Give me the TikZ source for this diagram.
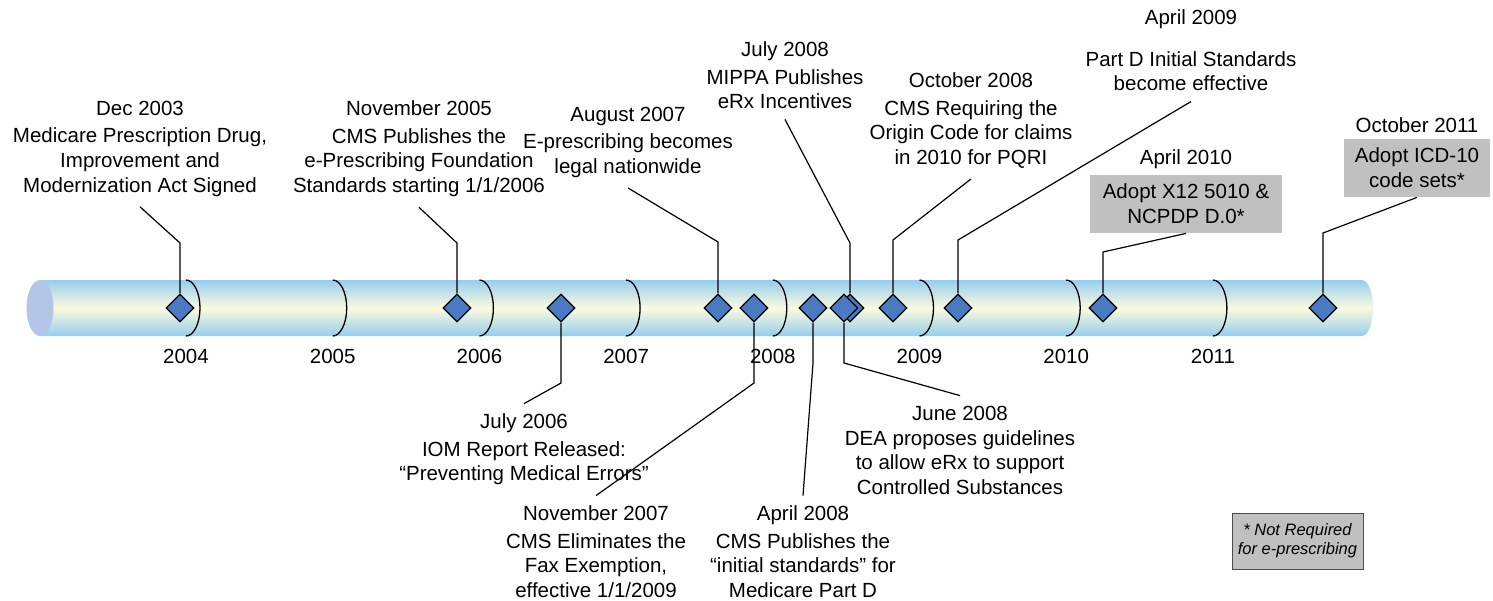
\documentclass[tikz,border=0pt]{standalone}
\usepackage{fontspec}
\setmainfont{Liberation Sans}
\usetikzlibrary{shapes.geometric,positioning}
\definecolor{tubeblue}{HTML}{96CDEE}
\definecolor{tubecream}{HTML}{FCFADE}
\definecolor{tubeend}{HTML}{B2C5E6}
\definecolor{eventblue}{HTML}{4A7BC2}
\definecolor{boxgray}{HTML}{C0C0C0}

\begin{document}
\begin{tikzpicture}[x=0.5pt,y=-0.5pt,font=\fontsize{10.25pt}{12.4pt}\selectfont]
  % Styles
  \tikzset{
    event/.style={diamond, draw=black, line width=0.6pt, fill=eventblue, minimum size=14pt, inner sep=0pt},
    callout/.style={align=center, inner sep=5pt},
    stdbox/.style={fill=boxgray, align=center, minimum width=#1, minimum height=29pt, inner sep=0pt},
    yearmark/.style={line width=0.65pt},
    link/.style={line width=0.6pt},
  }
  \useasboundingbox (0,0) rectangle (1493,600);

  % The tube
  \shade[top color=tubeblue, bottom color=tubeblue, middle color=tubecream]
    (40,280) -- (1362,280) arc[start angle=-90, end angle=90, x radius=11, y radius=28] -- (40,336) -- cycle;
  \fill[tubeend] (40,308) ellipse[x radius=13.5, y radius=28];

  % Year marks
  \foreach \yr [count=\i from 0] in {2004,...,2011}{
    \draw[yearmark] ({186+146.7*\i},280) arc[start angle=-90, end angle=90, x radius=14, y radius=28];
    \node (y\yr) at ({186+146.7*\i},356) {\yr};
  }

  % Events on the tube
  \node[event] (mma)       at (180,308) {};
  \node[event] (fdn)       at (457,308) {};
  \node[event] (iom)       at (561,308) {};
  \node[event] (legal)     at (718,308) {};
  \node[event] (fax)       at (754,308) {};
  \node[event] (partd)     at (813,308) {};
  \node[event] (mippa)     at (850,308) {};
  \node[event] (dea)       at (844,308) {};
  \node[event] (origin)    at (893,308) {};
  \node[event] (effective) at (958,308) {};
  \node[event] (x12)       at (1103,308) {};
  \node[event] (icd)       at (1323,308) {};

  % Callouts above
  \node[callout, anchor=north] (mmanote) at (140,90.6) {Dec 2003\\[1.2pt]Medicare Prescription Drug,\\Improvement and\\Modernization Act Signed};
  \node[callout, anchor=north] (fdnnote) at (419,90.6) {November 2005\\[1.2pt]CMS Publishes the\\e-Prescribing Foundation\\Standards starting 1/1/2006};
  \node[callout, anchor=north] (legalnote) at (628,96.6) {August 2007\\[1.2pt]E-prescribing becomes\\legal nationwide};
  \node[callout, anchor=north] (mippanote) at (785,31.6) {July 2008\\[1.2pt]MIPPA Publishes\\eRx Incentives};
  \node[callout, anchor=north] (originnote) at (971,62.6) {October 2008\\[1.2pt]CMS Requiring the\\Origin Code for claims\\in 2010 for PQRI};
  \node[callout, anchor=north] (effectivenote) at (1191,-0.4) {April 2009\\[8.25pt]Part D Initial Standards\\become effective};

  % Callouts below
  \node[callout, anchor=north] (iomnote) at (524,403.6) {July 2006\\[1.2pt]IOM Report Released:\\“Preventing Medical Errors”};
  \node[callout, anchor=north] (faxnote) at (596,495.6) {November 2007\\[1.2pt]CMS Eliminates the\\Fax Exemption,\\effective 1/1/2009};
  \node[callout, anchor=north] (partdnote) at (803,495.6) {April 2008\\[1.2pt]CMS Publishes the\\“initial standards” for\\Medicare Part D};
  \node[callout, anchor=north] (deanote) at (960,395.6) {June 2008\\DEA proposes guidelines\\to allow eRx to support\\Controlled Substances};

  % Grey boxes
  \node[stdbox=96pt] (x12note) at (1186,204) {Adopt X12 5010 \&\\NCPDP D.0*};
  \node[above=2.8pt of x12note, inner sep=0pt] (x12date) {April 2010};
  \node[stdbox=73pt] (icdnote) at (1417,168) {Adopt ICD-10\\code sets*};
  \node[above=2.8pt of icdnote, inner sep=0pt] (icddate) {October 2011};

  % Legend
  \node[draw=black!70, fill=boxgray, align=center, font=\fontsize{8.25pt}{9.5pt}\selectfont\itshape,
        minimum width=65.5pt, minimum height=28pt, inner sep=0pt] (legend) at (1297.5,541) {* Not Required\\for e-prescribing};

  % Leader lines
  \draw[link] (mmanote.south) -- (mma.north |- 0,243) -- (mma.north);
  \draw[link] (fdnnote.south) -- (fdn.north |- 0,243) -- (fdn.north);
  \draw[link] (legalnote.south) -- (legal.north |- 0,242) -- (legal.north);
  \draw[link] (mippanote.south) -- (mippa.north |- 0,243) -- (mippa.north);
  \draw[link] (originnote.south) -- (origin.north |- 0,240) -- (origin.north);
  \draw[link] (effectivenote.south) -- (effective.north |- 0,240) -- (effective.north);
  \draw[link] (x12note.south) -- (x12.north |- 0,252) -- (x12.north);
  \draw[link] (icdnote.south) -- (icd.north |- 0,233) -- (icd.north);
  \draw[link] (iom.south) -- (iom.south |- 0,383) -- (iomnote.north);
  \draw[link] (fax.south) -- (fax.south |- 0,383) -- (faxnote.north);
  \draw[link] (partd.south) -- (partd.south |- 0,363) -- (partdnote.north);
  \draw[link] (dea.south) -- (dea.south |- 0,363) -- (deanote.north);
\end{tikzpicture}
\end{document}
